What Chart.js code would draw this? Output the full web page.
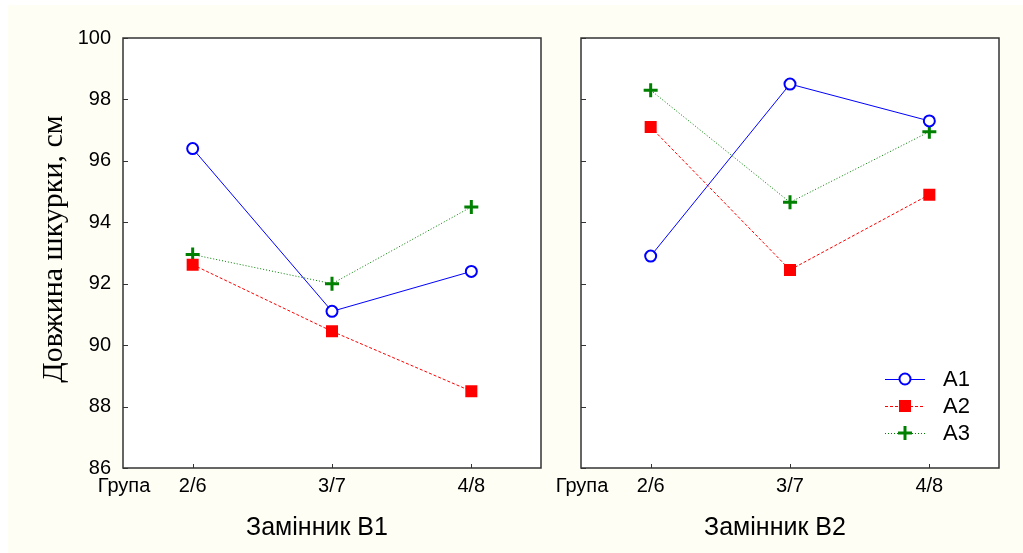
<!DOCTYPE html>
<html>
<head>
<meta charset="utf-8">
<script src="https://cdn.jsdelivr.net/npm/chart.js@4/dist/chart.umd.min.js"></script>
<style>
  body { margin: 0; background: #fff; }
  #bg { position: absolute; left: 8px; top: 5px; width: 1015px; height: 548px; background: #fffef5; }
  canvas { position: absolute; top: 0; }
  #c1 { left: 0; }
  #c2 { left: 540px; }
</style>
</head>
<body>
<div id="bg"></div>
<canvas id="c1" width="560" height="553"></canvas>
<canvas id="c2" width="483" height="553"></canvas>
<script>
// categories and values
const groups = ['2/6', '3/7', '4/8'];
const seriesNames = ['A1', 'A2', 'A3'];
const yMin = 86, yMax = 100, yStep = 2;

const b1A1 = [96.4, 91.1, 92.4];
const b1A2 = [92.62, 90.45, 88.5];
const b1A3 = [92.95, 92.0, 94.5];

const b2A1 = [92.9, 98.5, 97.3];
const b2A2 = [97.1, 92.45, 94.9];
const b2A3 = [98.3, 94.65, 96.95];

const blue = '#0000ff', red = '#ff0000', green = '#008000';
const sans = "'Liberation Sans', Arial, sans-serif";

function makeDatasets(a1, a2, a3) {
  return [
    { label: seriesNames[0], data: a1, borderColor: blue, borderWidth: 1,
      pointStyle: 'circle', pointRadius: 5.5, pointBorderWidth: 2,
      pointBorderColor: blue, pointBackgroundColor: '#fff' },
    { label: seriesNames[1], data: a2, borderColor: red, borderWidth: 1, borderDash: [3, 2],
      pointStyle: 'rect', pointRadius: 8.5, pointBorderWidth: 0,
      pointBorderColor: red, pointBackgroundColor: red },
    { label: seriesNames[2], data: a3, borderColor: green, borderWidth: 1, borderDash: [1, 2],
      pointStyle: 'cross', pointRadius: 7, pointBorderWidth: 3,
      pointBorderColor: green, pointBackgroundColor: green }
  ];
}

function drawMarker(ctx, ds, x, y) {
  ctx.save();
  ctx.setLineDash([]);
  if (ds.pointStyle === 'circle') {
    ctx.beginPath();
    ctx.arc(x, y, ds.pointRadius, 0, Math.PI * 2);
    ctx.fillStyle = '#fff';
    ctx.fill();
    ctx.lineWidth = ds.pointBorderWidth;
    ctx.strokeStyle = ds.pointBorderColor;
    ctx.stroke();
  } else if (ds.pointStyle === 'rect') {
    const s = ds.pointRadius * Math.SQRT1_2;
    ctx.fillStyle = ds.pointBackgroundColor;
    ctx.fillRect(x - s, y - s, 2 * s, 2 * s);
  } else {
    const r = ds.pointRadius;
    ctx.beginPath();
    ctx.moveTo(x - r, y); ctx.lineTo(x + r, y);
    ctx.moveTo(x, y - r); ctx.lineTo(x, y + r);
    ctx.lineWidth = ds.pointBorderWidth;
    ctx.strokeStyle = ds.pointBorderColor;
    ctx.stroke();
  }
  ctx.restore();
}

// frame, inward ticks, "Група", axis titles, legend
function panelPlugin(opts) {
  return {
    id: 'panel',
    beforeDraw(chart) {
      const a = chart.chartArea, ctx = chart.ctx;
      ctx.save();
      ctx.fillStyle = '#fff';
      ctx.fillRect(a.left, a.top, a.right - a.left, a.bottom - a.top);
      ctx.restore();
    },
    beforeDatasetsDraw(chart) {
      const a = chart.chartArea, ctx = chart.ctx;
      const xs = chart.scales.x, ys = chart.scales.y;
      ctx.save();
      ctx.strokeStyle = '#333';
      ctx.lineWidth = 1;
      ctx.beginPath();
      ys.ticks.forEach((t, i) => {
        const py = Math.round(ys.getPixelForTick(i)) + 0.5;
        ctx.moveTo(a.left, py); ctx.lineTo(a.left + 5, py);
      });
      xs.ticks.forEach((t, i) => {
        const px = Math.round(xs.getPixelForTick(i)) + 0.5;
        ctx.moveTo(px, a.bottom); ctx.lineTo(px, a.bottom - 4);
      });
      ctx.stroke();
      ctx.lineWidth = 1.5;
      ctx.strokeRect(a.left, a.top, a.right - a.left, a.bottom - a.top);

      ctx.fillStyle = '#000';
      ctx.font = '20px ' + sans;
      ctx.textAlign = 'center';
      ctx.textBaseline = 'middle';
      ctx.fillText('Група', a.left + 1, a.bottom + 6 + 12);

      ctx.font = '25px ' + sans;
      ctx.fillText(opts.title, (a.left + a.right) / 2 - 15, 528);

      if (opts.yTitle) {
        ctx.translate(62, 249);
        ctx.rotate(-Math.PI / 2);
        ctx.font = "30px 'Liberation Serif', 'Times New Roman', serif";
        ctx.textBaseline = 'alphabetic';
        ctx.fillText(opts.yTitle, 0, 0);
      }
      ctx.restore();
    },
    afterDraw(chart) {
      if (!opts.legend) return;
      const ctx = chart.ctx;
      const left = 885 - 540, rowY = [379, 406, 433];
      chart.data.datasets.forEach((ds, i) => {
        const y = rowY[i];
        ctx.save();
        ctx.strokeStyle = ds.borderColor;
        ctx.lineWidth = 1;
        ctx.setLineDash(ds.borderDash || []);
        ctx.beginPath();
        ctx.moveTo(left, y + 0.5); ctx.lineTo(left + 40, y + 0.5);
        ctx.stroke();
        ctx.restore();
        drawMarker(ctx, ds, left + 20, y);
        ctx.save();
        ctx.fillStyle = '#000';
        ctx.font = '22px ' + sans;
        ctx.textAlign = 'left';
        ctx.textBaseline = 'middle';
        ctx.fillText(ds.label, left + 58, y + 1);
        ctx.restore();
      });
    }
  };
}

function makeChart(id, datasets, opts) {
  return new Chart(document.getElementById(id), {
    type: 'line',
    data: { labels: groups, datasets: datasets },
    options: {
      responsive: false,
      animation: false,
      layout: { padding: { top: 38, bottom: 45, left: 0, right: opts.padRight } },
      plugins: { legend: { display: false }, tooltip: { enabled: false } },
      scales: {
        x: {
          type: 'category',
          offset: true,
          grid: { display: false, drawTicks: false },
          border: { display: false },
          ticks: { color: '#000', font: { family: sans, size: 20 }, padding: 6, maxRotation: 0 },
          afterFit(s) { s.height = 40; }
        },
        y: {
          min: yMin, max: yMax,
          grid: { display: false, drawTicks: false },
          border: { display: false },
          ticks: { stepSize: yStep, display: opts.yLabels, color: '#000',
                   font: { family: sans, size: 20 }, padding: 12 },
          afterFit(s) { s.width = opts.yWidth; }
        }
      }
    },
    plugins: [panelPlugin(opts)]
  });
}

makeChart('c1', makeDatasets(b1A1, b1A2, b1A3),
  { title: 'Замінник B1', yTitle: 'Довжина шкурки, см', yLabels: true, yWidth: 123, padRight: 19, legend: false });
makeChart('c2', makeDatasets(b2A1, b2A2, b2A3),
  { title: 'Замінник B2', yTitle: null, yLabels: false, yWidth: 41, padRight: 24, legend: true });
</script>
</body>
</html>
